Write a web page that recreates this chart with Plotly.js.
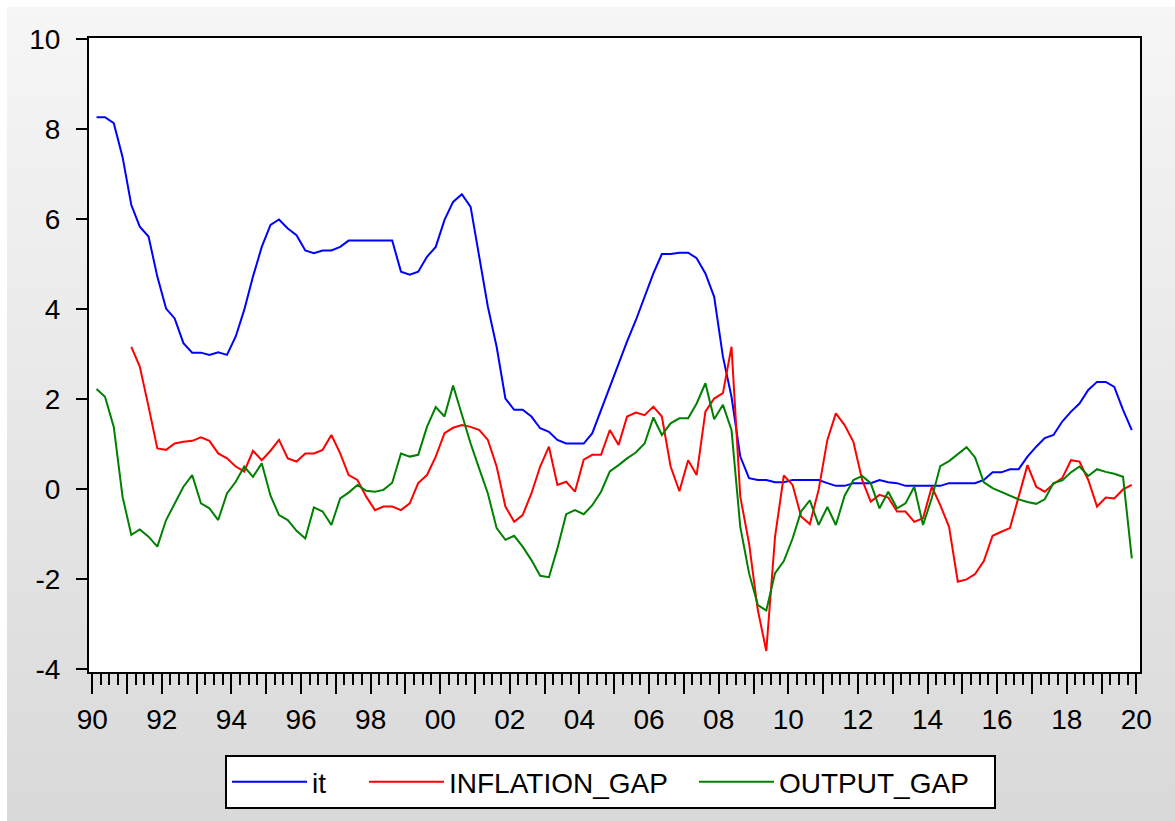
<!DOCTYPE html>
<html>
<head>
<meta charset="utf-8">
<script src="https://cdn.plot.ly/plotly-3.0.1.min.js"></script>
<style>
html,body{margin:0;padding:0;background:#ffffff;width:1175px;height:821px;overflow:hidden;}
#bg{position:absolute;left:7px;top:7px;width:1168px;height:814px;background:linear-gradient(to bottom,#f6f6f6,#d9d9d9);}
#chart{position:absolute;left:0;top:0;width:1175px;height:821px;}
</style>
</head>
<body>
<div id="bg"></div>
<div id="chart"></div>
<script>
// Quarterly sample 1990Q1 - 2019Q4 (plotted at mid-quarter)
const startYear = 1990;
const endYear = 2019;
const quarterMidMonths = ["02", "05", "08", "11"];

// Y-axis tick labels
const yTickVals = [-4, -2, 0, 2, 4, 6, 8, 10];
const yTickText = ["-4", "-2", "0", "2", "4", "6", "8", "10"];

// Interest rate (it)
const it = [
  8.26, 8.26, 8.13, 7.38, 6.31, 5.83, 5.61, 4.72, 4.01, 3.79,
  3.24, 3.03, 3.03, 2.98, 3.04, 2.98, 3.39, 3.98, 4.72, 5.38,
  5.87, 5.99, 5.79, 5.64, 5.30, 5.24, 5.30, 5.30, 5.38, 5.52,
  5.52, 5.52, 5.52, 5.52, 5.52, 4.83, 4.76, 4.83, 5.16, 5.38,
  5.98, 6.38, 6.55, 6.27, 5.09, 4.05, 3.16, 2.01, 1.76, 1.76,
  1.61, 1.35, 1.27, 1.09, 1.01, 1.01, 1.01, 1.24, 1.76, 2.27,
  2.79, 3.28, 3.75, 4.27, 4.79, 5.22, 5.22, 5.25, 5.25, 5.13,
  4.79, 4.27, 2.94, 2.05, 0.72, 0.24, 0.20, 0.20, 0.15, 0.15,
  0.20, 0.20, 0.20, 0.20, 0.13, 0.07, 0.07, 0.13, 0.13, 0.13,
  0.20, 0.15, 0.13, 0.07, 0.07, 0.07, 0.07, 0.07, 0.13, 0.13,
  0.13, 0.13, 0.20, 0.37, 0.37, 0.44, 0.44, 0.72, 0.94, 1.13,
  1.20, 1.50, 1.72, 1.90, 2.20, 2.38, 2.38, 2.27, 1.76, 1.31
];

// Inflation gap
const inflationGap = [
  null, null, null, null, 3.16, 2.72, 1.83, 0.90, 0.87, 1.01,
  1.05, 1.07, 1.15, 1.07, 0.79, 0.68, 0.50, 0.39, 0.85, 0.64,
  0.85, 1.09, 0.68, 0.61, 0.79, 0.79, 0.87, 1.20, 0.79, 0.31,
  0.20, -0.17, -0.47, -0.39, -0.39, -0.47, -0.32, 0.13, 0.31, 0.72,
  1.24, 1.36, 1.42, 1.38, 1.31, 1.09, 0.50, -0.39, -0.73, -0.58,
  -0.10, 0.50, 0.94, 0.09, 0.16, -0.06, 0.65, 0.76, 0.76, 1.31,
  0.98, 1.61, 1.70, 1.64, 1.83, 1.61, 0.50, -0.05, 0.64, 0.31,
  1.72, 2.01, 2.13, 3.16, -0.17, -1.21, -2.69, -3.60, -1.06, 0.30,
  0.09, -0.61, -0.78, -0.02, 1.09, 1.68, 1.42, 1.05, 0.20, -0.28,
  -0.13, -0.19, -0.50, -0.50, -0.73, -0.65, 0.05, -0.36, -0.84, -2.06,
  -2.01, -1.89, -1.60, -1.04, -0.95, -0.87, -0.17, 0.53, 0.05, -0.06,
  0.11, 0.24, 0.64, 0.61, 0.20, -0.39, -0.19, -0.21, -0.01, 0.09
];

// Output gap
const outputGap = [
  2.22, 2.05, 1.38, -0.17, -1.02, -0.90, -1.06, -1.28, -0.69, -0.32,
  0.05, 0.31, -0.32, -0.43, -0.69, -0.10, 0.16, 0.50, 0.27, 0.57,
  -0.15, -0.58, -0.69, -0.93, -1.10, -0.41, -0.50, -0.80, -0.21, -0.08,
  0.09, -0.04, -0.06, -0.02, 0.14, 0.79, 0.72, 0.76, 1.38, 1.82,
  1.61, 2.30, 1.64, 1.01, 0.44, -0.10, -0.87, -1.13, -1.04, -1.28,
  -1.58, -1.93, -1.96, -1.32, -0.56, -0.47, -0.56, -0.36, -0.06, 0.39,
  0.53, 0.68, 0.81, 1.01, 1.59, 1.20, 1.46, 1.57, 1.57, 1.90,
  2.35, 1.55, 1.87, 1.31, -0.84, -1.87, -2.58, -2.70, -1.87, -1.60,
  -1.10, -0.50, -0.25, -0.80, -0.40, -0.80, -0.15, 0.20, 0.29, 0.13,
  -0.43, -0.06, -0.43, -0.32, 0.05, -0.80, -0.20, 0.51, 0.62, 0.78,
  0.93, 0.70, 0.15, 0.02, -0.07, -0.15, -0.23, -0.29, -0.33, -0.23,
  0.13, 0.19, 0.37, 0.50, 0.29, 0.44, 0.38, 0.34, 0.27, -1.54
];

const seriesNames = ["it", "INFLATION_GAP", "OUTPUT_GAP"];
const seriesColors = ["#0000ff", "#ff0000", "#008000"];

// quarter dates (mid-quarter)
const quarters = [];
for (let y = startYear; y <= endYear; y++) {
  for (const m of quarterMidMonths) quarters.push(y + "-" + m + "-15");
}

const FONT = "Liberation Sans, Arial, sans-serif";
const legendWidths = [47, 240, 210];

const traces = [it, inflationGap, outputGap].map((vals, k) => ({
  type: "scatter",
  mode: "lines",
  x: quarters,
  y: vals,
  name: seriesNames[k],
  line: {color: seriesColors[k], width: 2},
  legendwidth: legendWidths[k],
  connectgaps: false,
  hoverinfo: "skip"
}));

const layout = {
  width: 1175,
  height: 821,
  paper_bgcolor: "rgba(0,0,0,0)",
  plot_bgcolor: "#ffffff",
  margin: {l: 89, r: 35, t: 38, b: 149, pad: 0},
  showlegend: true,
  font: {family: FONT, size: 28, color: "#000000"},
  xaxis: {
    type: "date",
    range: ["1989-11-28", "2020-02-09"],
    tick0: "1990-01-01",
    dtick: "M12",
    ticklabelstep: 2,
    tickformat: "%y",
    ticks: "outside",
    ticklen: 20,
    tickwidth: 2,
    tickcolor: "#000000",
    tickfont: {family: FONT, size: 28, color: "#000000"},
    ticklabelstandoff: 1,
    minor: {dtick: "M3", tick0: "1990-01-01", ticks: "outside", ticklen: 11, tickwidth: 2, tickcolor: "#000000", showgrid: false},
    showgrid: false,
    zeroline: false,
    showline: true,
    linecolor: "#000000",
    linewidth: 2,
    mirror: true,
    fixedrange: true
  },
  yaxis: {
    range: [-4.067, 10.022],
    tickmode: "array",
    tickvals: yTickVals,
    ticktext: yTickText,
    ticks: "outside",
    ticklen: 11,
    tickwidth: 2,
    tickcolor: "#000000",
    tickfont: {family: FONT, size: 28, color: "#000000"},
    ticklabelstandoff: 10,
    showgrid: false,
    zeroline: false,
    showline: true,
    linecolor: "#000000",
    linewidth: 2,
    mirror: true,
    fixedrange: true
  },
  legend: {
    orientation: "h",
    xref: "container",
    yref: "container",
    x: 225 / 1175,
    xanchor: "left",
    y: 1 - 755 / 821,
    yanchor: "top",
    bgcolor: "#ffffff",
    bordercolor: "#000000",
    borderwidth: 2,
    itemwidth: 75,
    font: {family: FONT, size: 28, color: "#000000"},
    itemclick: false,
    itemdoubleclick: false
  }
};

Plotly.newPlot("chart", traces, layout, {staticPlot: true, displayModeBar: false});
</script>
</body>
</html>
